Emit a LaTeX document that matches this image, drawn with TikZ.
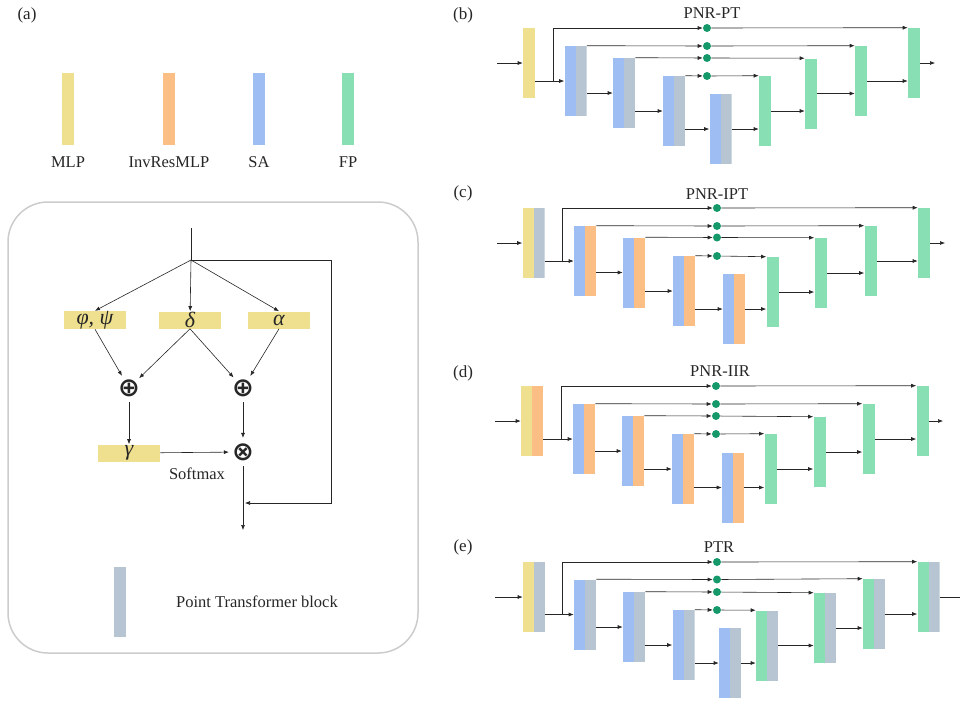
\documentclass[tikz,border=0pt]{standalone}
\usepackage{fontspec}
\setmainfont{Liberation Serif}
\newfontfamily\symfont{DejaVu Sans}
\usetikzlibrary{arrows.meta,positioning}
\definecolor{mlpc}{HTML}{EEE08E}
\definecolor{invc}{HTML}{FBBE85}
\definecolor{sac}{HTML}{9EBEF3}
\definecolor{fpc}{HTML}{88DFB4}
\definecolor{ptc}{HTML}{B6C5D1}
\definecolor{dotc}{HTML}{16996A}
\begin{document}
\begin{tikzpicture}[x=1pt, y=-1pt, font=\fontsize{16.5}{19}\selectfont, color=black!85,
	>={Latex[length=5pt,width=4pt]}, line width=0.6pt,
	bar/.style={minimum width=12pt, minimum height=70pt, inner sep=0pt},
	duo/.style 2 args={minimum width=22pt, minimum height=70pt, inner sep=0pt,
		path picture={\fill[#1] (path picture bounding box.south west) rectangle (path picture bounding box.north);
			\fill[#2] (path picture bounding box.south) rectangle (path picture bounding box.north east);}},
	ybox/.style={fill=mlpc, minimum width=62pt, minimum height=17pt, inner sep=0pt, font=\fontsize{22}{22}\selectfont\itshape},
	op/.style={circle, inner sep=0pt, font=\fontsize{26}{26}\selectfont\symfont\bfseries},
	dot/.style={circle, fill=dotc, minimum size=8pt, inner sep=0pt},
	title/.style={font=\fontsize{17}{19}\selectfont}]
	\useasboundingbox (0,0) rectangle (960,702);

	% (a) legend and block
	\node[title] (la) at (27,15) {(a)};
	\node[bar, fill=mlpc, minimum height=72pt, label={[label distance=8pt]below:MLP}] (l1) at (68,109) {};
	\node[bar, fill=invc, minimum height=72pt, label={[label distance=8pt]below:InvResMLP}] (l2) at (169,109) {};
	\node[bar, fill=sac, minimum height=72pt, label={[label distance=8pt]below:SA}] (l3) at (259,109) {};
	\node[bar, fill=fpc, minimum height=72pt, label={[label distance=8pt]below:FP}] (l4) at (348,109) {};

	\draw[black!20, line width=1.5pt, rounded corners=40pt] (8,202) rectangle (418,653);
	\coordinate (top) at (191,228);
	\coordinate (sp) at (191,260);
	\coordinate (rt) at (331,260);
	\coordinate (mg) at (245,503);
	\coordinate (out) at (243,530);
	\node[ybox] (phi) at (95,320) {φ, ψ};
	\node[ybox] (del) at (190,320) {δ};
	\node[ybox] (alp) at (279,320) {α};
	\node[op] (p1) at (129,388) {⊕};
	\node[op] (p2) at (243,388) {⊕};
	\node[ybox] (gam) at (129,453) {γ};
	\node[op] (m1) at (243,452) {⊗};
	\node (sm) at (197,474) {Softmax};
	\node[bar, fill=ptc] (pt) at (120,602) {};
	\node (ptl) at (257,602) {Point Transformer block};

	\draw (top) -- (sp);
	\draw[->] (sp) -- (phi.north);
	\draw[->] (sp) -- (del);
	\draw[->] (sp) -- (alp.north);
	\draw[->] (phi.south) -- (p1);
	\draw[->] (del.south) -- (p1);
	\draw[->] (del.south) -- (p2);
	\draw[->] (alp.south) -- (p2);
	\draw[->] (p1) -- (gam);
	\draw[->] (p2) -- (m1);
	\draw[->] (gam) -- (m1);
	\draw[->] (m1) -- (out);
	\draw[->] (sp) -- (rt) |- (mg);

	% (b) PNR-PT
	\node[title] (lb) at (463,15) {(b)};
	\node (tb) at (712,13) {PNR-PT};
	\node[bar, fill=mlpc] (b0) at (529,63) {};
	\node[duo={sac}{ptc}] (b1) at (575.5,81) {};
	\node[duo={sac}{ptc}] (b2) at (624,93) {};
	\node[duo={sac}{ptc}] (b3) at (674,111) {};
	\node[duo={sac}{ptc}] (b4) at (720.5,129) {};
	\node[bar, fill=fpc] (b5) at (765,111) {};
	\node[bar, fill=fpc] (b6) at (811,93.5) {};
	\node[bar, fill=fpc] (b7) at (861,81) {};
	\node[bar, fill=fpc] (b8) at (914,63) {};
	\node[dot] (bd0) at (707,28) {};
	\node[dot] (bd1) at (707,46) {};
	\node[dot] (bd2) at (707,58) {};
	\node[dot] (bd3) at (707,76) {};
	\coordinate (bi) at (497,63);
	\coordinate (bo) at (935,63);
	\coordinate (bj) at (553,81);
	\draw[->] (bi) -- (b0);
	\draw (b0.east |- b1) -- (bj);
	\draw[->] (bj) -- (b1);
	\draw[->] (bj) |- (bd0);
	\draw[->] (bd0) -- (b8.north west);
	\draw[->] (b1.north east) -- (bd1);
	\draw[->] (bd1) -- (b7.north west);
	\draw[->] (b2.north east) -- (bd2);
	\draw[->] (bd2) -- (b6.north west);
	\draw[->] (b3.north east) -- (bd3);
	\draw[->] (bd3) -- (b5.north west);
	\draw[->] (b1.east |- b2) -- (b2);
	\draw[->] (b2.east |- b3) -- (b3);
	\draw[->] (b3.east |- b4) -- (b4);
	\draw[->] (b4.east) -- (b4.east -| b5.west);
	\draw[->] (b5.east) -- (b5.east -| b6.west);
	\draw[->] (b6.east) -- (b6.east -| b7.west);
	\draw[->] (b7.east) -- (b7.east -| b8.west);
	\draw[->] (b8.east) -- (bo);

	% (c) PNR-IPT
	\node[title] (lc) at (463,193) {(c)};
	\node (tc) at (717,194) {PNR-IPT};
	\node[duo={mlpc}{ptc}] (c0) at (533.5,243) {};
	\node[duo={sac}{invc}] (c1) at (585,261) {};
	\node[duo={sac}{invc}] (c2) at (634,272.5) {};
	\node[duo={sac}{invc}] (c3) at (684,291) {};
	\node[duo={sac}{invc}] (c4) at (734,309) {};
	\node[bar, fill=fpc] (c5) at (772.5,292) {};
	\node[bar, fill=fpc] (c6) at (820.5,273) {};
	\node[bar, fill=fpc] (c7) at (870.5,261) {};
	\node[bar, fill=fpc] (c8) at (924,243) {};
	\node[dot] (cd0) at (717,208) {};
	\node[dot] (cd1) at (717,226) {};
	\node[dot] (cd2) at (717,237.5) {};
	\node[dot] (cd3) at (717,256) {};
	\coordinate (ci) at (497,243);
	\coordinate (co) at (945,243);
	\coordinate (cj) at (562,261);
	\draw[->] (ci) -- (c0);
	\draw (c0.east |- c1) -- (cj);
	\draw[->] (cj) -- (c1);
	\draw[->] (cj) |- (cd0);
	\draw[->] (cd0) -- (c8.north west);
	\draw[->] (c1.north east) -- (cd1);
	\draw[->] (cd1) -- (c7.north west);
	\draw[->] (c2.north east) -- (cd2);
	\draw[->] (cd2) -- (c6.north west);
	\draw[->] (c3.north east) -- (cd3);
	\draw[->] (cd3) -- (c5.north west);
	\draw[->] (c1.east |- c2) -- (c2);
	\draw[->] (c2.east |- c3) -- (c3);
	\draw[->] (c3.east |- c4) -- (c4);
	\draw[->] (c4.east) -- (c4.east -| c5.west);
	\draw[->] (c5.east) -- (c5.east -| c6.west);
	\draw[->] (c6.east) -- (c6.east -| c7.west);
	\draw[->] (c7.east) -- (c7.east -| c8.west);
	\draw[->] (c8.east) -- (co);

	% (d) PNR-IIR
	\node[title] (ld) at (463,373) {(d)};
	\node (td) at (720,371) {PNR-IIR};
	\node[duo={mlpc}{invc}] (d0) at (532,421) {};
	\node[duo={sac}{invc}] (d1) at (584,439) {};
	\node[duo={sac}{invc}] (d2) at (633,451) {};
	\node[duo={sac}{invc}] (d3) at (683,469) {};
	\node[duo={sac}{invc}] (d4) at (733,487.5) {};
	\node[bar, fill=fpc] (d5) at (770.5,469) {};
	\node[bar, fill=fpc] (d6) at (819.5,452) {};
	\node[bar, fill=fpc] (d7) at (868.5,439) {};
	\node[bar, fill=fpc] (d8) at (922.5,421) {};
	\node[dot] (dd0) at (716,386) {};
	\node[dot] (dd1) at (716,404) {};
	\node[dot] (dd2) at (716,416) {};
	\node[dot] (dd3) at (716,434) {};
	\coordinate (di) at (495,421);
	\coordinate (do) at (943,421);
	\coordinate (dj) at (561,439);
	\draw[->] (di) -- (d0);
	\draw (d0.east |- d1) -- (dj);
	\draw[->] (dj) -- (d1);
	\draw[->] (dj) |- (dd0);
	\draw[->] (dd0) -- (d8.north west);
	\draw[->] (d1.north east) -- (dd1);
	\draw[->] (dd1) -- (d7.north west);
	\draw[->] (d2.north east) -- (dd2);
	\draw[->] (dd2) -- (d6.north west);
	\draw[->] (d3.north east) -- (dd3);
	\draw[->] (dd3) -- (d5.north west);
	\draw[->] (d1.east |- d2) -- (d2);
	\draw[->] (d2.east |- d3) -- (d3);
	\draw[->] (d3.east |- d4) -- (d4);
	\draw[->] (d4.east) -- (d4.east -| d5.west);
	\draw[->] (d5.east) -- (d5.east -| d6.west);
	\draw[->] (d6.east) -- (d6.east -| d7.west);
	\draw[->] (d7.east) -- (d7.east -| d8.west);
	\draw[->] (d8.east) -- (do);

	% (e) PTR
	\node[title] (le) at (463,547) {(e)};
	\node (te) at (719,547) {PTR};
	\node[duo={mlpc}{ptc}] (e0) at (534,597) {};
	\node[duo={sac}{ptc}] (e1) at (585,614.5) {};
	\node[duo={sac}{ptc}] (e2) at (634,627) {};
	\node[duo={sac}{ptc}] (e3) at (683.5,645) {};
	\node[duo={sac}{ptc}] (e4) at (730,663) {};
	\node[duo={fpc}{ptc}] (e5) at (767,645.5) {};
	\node[duo={fpc}{ptc}] (e6) at (825,628) {};
	\node[duo={fpc}{ptc}] (e7) at (874,614) {};
	\node[duo={fpc}{ptc}] (e8) at (928.5,597) {};
	\node[dot] (ed0) at (717,562) {};
	\node[dot] (ed1) at (717,579.5) {};
	\node[dot] (ed2) at (717,592) {};
	\node[dot] (ed3) at (717,610) {};
	\coordinate (ei) at (495,597);
	\coordinate (eo) at (968,597);
	\coordinate (ej) at (562,614.5);
	\draw[->] (ei) -- (e0);
	\draw (e0.east |- e1) -- (ej);
	\draw[->] (ej) -- (e1);
	\draw[->] (ej) |- (ed0);
	\draw[->] (ed0) -- (e8.north west);
	\draw[->] (e1.north east) -- (ed1);
	\draw[->] (ed1) -- (e7.north west);
	\draw[->] (e2.north east) -- (ed2);
	\draw[->] (ed2) -- (e6.north west);
	\draw[->] (e3.north east) -- (ed3);
	\draw[->] (ed3) -- (e5.north west);
	\draw[->] (e1.east |- e2) -- (e2);
	\draw[->] (e2.east |- e3) -- (e3);
	\draw[->] (e3.east |- e4) -- (e4);
	\draw[->] (e4.east) -- (e4.east -| e5.west);
	\draw[->] (e5.east) -- (e5.east -| e6.west);
	\draw[->] (e6.east) -- (e6.east -| e7.west);
	\draw[->] (e7.east) -- (e7.east -| e8.west);
	\draw[->] (e8.east) -- (eo);
\end{tikzpicture}
\end{document}
